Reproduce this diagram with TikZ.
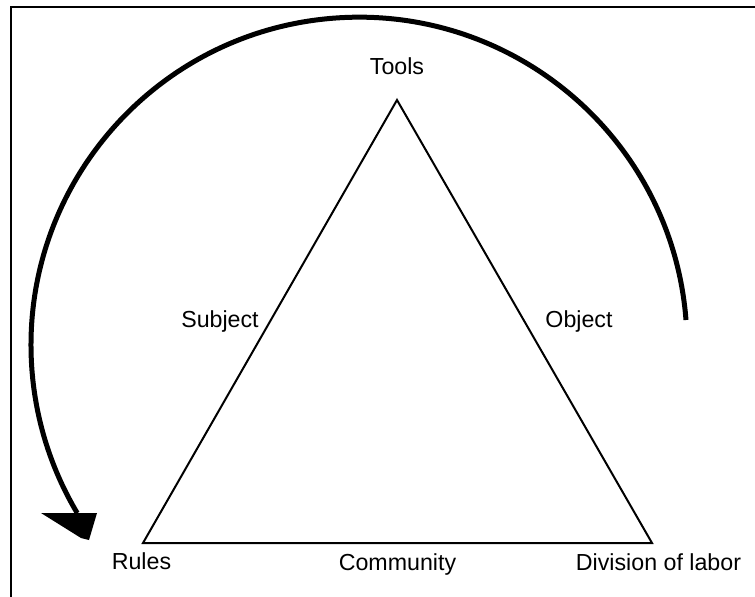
\documentclass[tikz,border=0pt]{standalone}
\usepackage{fontspec}
\setmainfont{Liberation Sans}
\tikzset{
  lbl/.style={inner sep=0pt, anchor=base, font=\fontsize{23.2}{28}\selectfont},
  tri/.style={line width=2pt, line join=miter},
  cyc/.style={line width=5pt},
  frame/.style={line width=2.2pt}
}
\begin{document}
\begin{tikzpicture}[x=1pt,y=-1pt]
\useasboundingbox (0,0) rectangle (755,597);
\fill[white] (0,0) rectangle (755,597);
\begin{scope}
\clip (0,0) rectangle (755,597);
\draw[frame] (11,600) -- (11,7) -- (760,7);
\end{scope}
% triangle corners
\coordinate (top) at (397,100);
\coordinate (bl) at (143,543);
\coordinate (br) at (652,543);
\draw[tri] (top) -- (bl) -- (br) -- cycle;
% labels
\node[lbl] (tools) at (397,74) {Tools};
\node[lbl] (subject) at (220,327) {Subject};
\node[lbl] (object) at (579,327) {Object};
\node[lbl] (rules) at (141.5,569) {Rules};
\node[lbl] (community) at (397.5,570) {Community};
\node[lbl] (division) at (658.5,570) {Division of labor};
% cycle arrow
\coordinate (arcstart) at (686,320);
\draw[cyc] (arcstart) arc[start angle=-4.4, end angle=-210.8, radius=328] coordinate (arcend);
\fill (41,513) -- (97,513) -- (89,540) -- (81,538) -- cycle;
\end{tikzpicture}
\end{document}
